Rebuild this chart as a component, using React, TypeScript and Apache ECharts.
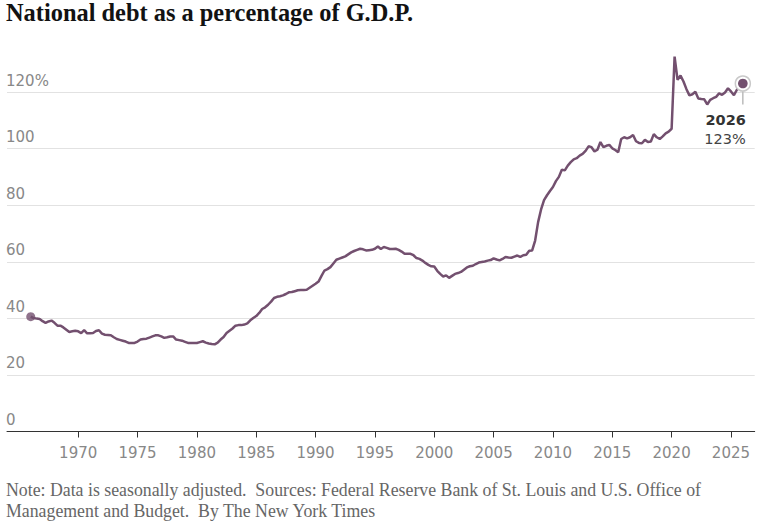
import React, { useEffect, useRef } from "react";
import * as echarts from "echarts";

// Quarterly federal debt as % of GDP, starting 1966 Q1
const startYear = 1966;
const debt1966to1969 = [40.6, 40.1, 39.9, 39.8, 39.0, 38.4, 38.9, 39.2, 38.4, 37.4, 37.4, 36.8, 36.0, 35.2, 35.4, 35.6];
const debt1970s = [35.4, 34.8, 35.8, 34.7, 34.7, 34.8, 35.5, 35.8, 34.6, 34.2, 34.1, 34.0, 33.3, 32.7, 32.4, 32.1, 31.8, 31.3, 31.3, 31.3, 31.8, 32.5, 32.7, 32.8, 33.2, 33.6, 34.0, 34.0, 33.6, 33.1, 33.3, 33.6, 33.6, 32.5, 32.3, 32.1, 31.7, 31.3, 31.3, 31.3];
const debt1980s = [31.3, 31.6, 31.9, 31.4, 31.1, 30.9, 30.8, 31.4, 32.5, 33.4, 34.8, 35.6, 36.4, 37.4, 37.6, 37.6, 37.8, 38.2, 39.3, 40.1, 40.8, 41.9, 43.3, 43.9, 44.8, 45.9, 47.2, 47.6, 47.8, 48.1, 48.6, 49.2, 49.3, 49.6, 49.9, 50.0, 50.0, 50.1, 50.8, 51.5];
const debt1990s = [52.2, 53.0, 55.0, 56.9, 57.4, 58.1, 59.4, 60.7, 61.1, 61.5, 61.9, 62.6, 63.3, 63.8, 64.2, 64.6, 64.4, 64.0, 64.1, 64.2, 64.6, 65.4, 64.5, 65.2, 64.9, 64.5, 64.5, 64.6, 64.2, 63.6, 62.8, 62.8, 62.8, 62.3, 61.3, 61.0, 60.4, 59.6, 58.9, 58.4];
const debt2000s = [58.3, 56.8, 55.7, 54.8, 55.2, 54.3, 55.0, 55.7, 56.0, 56.4, 57.2, 58.0, 58.4, 58.6, 59.2, 59.7, 59.9, 60.1, 60.4, 60.6, 61.2, 60.8, 60.5, 61.0, 61.7, 61.5, 61.4, 61.8, 62.2, 61.7, 62.3, 62.5, 63.9, 64.0, 67.5, 74.0, 78.5, 81.8, 83.5, 85.0];
const debt2010s = [86.4, 88.5, 90.0, 92.5, 92.3, 94.0, 95.2, 96.2, 96.6, 97.5, 98.1, 99.2, 100.8, 100.5, 99.0, 99.6, 102.3, 100.5, 101.0, 101.3, 100.1, 99.5, 98.7, 103.4, 104.0, 103.6, 104.0, 104.8, 102.6, 102.0, 101.9, 103.1, 102.3, 102.5, 105.1, 104.0, 103.4, 104.3, 105.4, 106.0];
const debt2020s = [107.0, 132.5, 124.3, 125.8, 123.7, 121.0, 118.8, 119.2, 120.1, 117.7, 117.5, 117.4, 115.6, 117.2, 117.8, 118.3, 119.5, 119.0, 119.8, 121.3, 120.2, 118.9, 120.8, 121.9, 123.0];

const yTicks = [0, 20, 40, 60, 80, 100, 120];
const xTickYears = [1970, 1975, 1980, 1985, 1990, 1995, 2000, 2005, 2010, 2015, 2020, 2025];

const titleText = "National debt as a percentage of G.D.P.";
const noteLine1 = "Note: Data is seasonally adjusted.  Sources: Federal Reserve Bank of St. Louis and U.S. Office of";
const noteLine2 = "Management and Budget.  By The New York Times";

const LINE_COLOR = "#73506f";
const SANS = "DejaVu Sans";
const SERIF = "Liberation Serif";

export default function App() {
  const ref = useRef<HTMLDivElement>(null);

  useEffect(() => {
    const values = [
      ...debt1966to1969,
      ...debt1970s,
      ...debt1980s,
      ...debt1990s,
      ...debt2000s,
      ...debt2010s,
      ...debt2020s,
    ];
    const points = values.map((v, i) => [startYear + i / 4, v]);
    const first = points[0];
    const last = points[points.length - 1];

    const chart = echarts.init(ref.current!, null, { renderer: "svg" });
    chart.setOption({
      animation: false,
      backgroundColor: "#fff",
      title: {
        text: titleText,
        left: 6,
        top: 0,
        padding: 0,
        textStyle: {
          fontFamily: SERIF,
          fontWeight: "bold",
          fontSize: 24.4,
          color: "#121212",
        },
      },
      grid: { left: 7, right: 8.3, top: 92, bottom: 95.5 },
      xAxis: {
        type: "value",
        min: 1964,
        max: 2027,
        splitLine: { show: false },
        axisLine: { show: true, lineStyle: { color: "#333", width: 1 } },
        axisTick: {
          show: true,
          length: 6,
          customValues: xTickYears,
          lineStyle: { color: "#333", width: 1 },
        },
        axisLabel: {
          customValues: xTickYears,
          margin: 14,
          color: "#888",
          fontFamily: SANS,
          fontSize: 15,
          formatter: (v: number) => String(v),
        },
      },
      yAxis: {
        type: "value",
        min: 0,
        max: 120,
        interval: 20,
        axisLine: { show: false },
        axisTick: { show: false },
        splitLine: { show: true, lineStyle: { color: "#e2e2e2", width: 1 } },
        axisLabel: {
          inside: true,
          margin: -1,
          verticalAlign: "bottom",
          padding: [0, 0, 4, 0],
          color: "#888",
          fontFamily: SANS,
          fontSize: 15,
          formatter: (v: number) => (v === yTicks[yTicks.length - 1] ? v + "%" : String(v)),
        },
      },
      series: [
        {
          type: "line",
          data: points,
          showSymbol: false,
          clip: false,
          lineStyle: { color: LINE_COLOR, width: 2.5 },
          z: 3,
        },
        {
          type: "scatter",
          data: [first],
          symbolSize: 9,
          itemStyle: { color: LINE_COLOR },
          z: 4,
        },
        {
          type: "custom",
          data: [last],
          clip: false,
          z: 5,
          renderItem: (params: any, api: any) => {
            const yr = api.value(0);
            const val = api.value(1);
            const p = api.coord([yr, val]);
            return {
              type: "group",
              children: [
                {
                  type: "circle",
                  shape: { cx: p[0], cy: p[1], r: 7.5 },
                  style: { fill: "#fff", stroke: "#c9c9c9", lineWidth: 1.5 },
                },
                {
                  type: "circle",
                  shape: { cx: p[0], cy: p[1], r: 4.8 },
                  style: { fill: LINE_COLOR },
                },
                {
                  type: "line",
                  shape: { x1: p[0], y1: p[1] + 8, x2: p[0], y2: p[1] + 21 },
                  style: { stroke: "#bbb", lineWidth: 1.5 },
                },
                {
                  type: "text",
                  x: p[0] + 3,
                  y: p[1] + 36,
                  style: {
                    text: String(Math.round(yr)),
                    fontFamily: SANS,
                    fontWeight: "bold",
                    fontSize: 14.5,
                    fill: "#333",
                    align: "right",
                    verticalAlign: "middle",
                  },
                },
                {
                  type: "text",
                  x: p[0] + 3,
                  y: p[1] + 55,
                  style: {
                    text: Math.round(val) + "%",
                    fontFamily: SANS,
                    fontSize: 14.5,
                    fill: "#444",
                    align: "right",
                    verticalAlign: "middle",
                  },
                },
              ],
            };
          },
        },
      ],
      graphic: [
        {
          type: "text",
          left: 6,
          top: 481,
          style: { text: noteLine1, fontFamily: SERIF, fontSize: 17.8, fill: "#666" },
        },
        {
          type: "text",
          left: 6,
          top: 502,
          style: { text: noteLine2, fontFamily: SERIF, fontSize: 17.8, fill: "#666" },
        },
      ],
    });
    return () => chart.dispose();
  }, []);

  return (
    <div
      ref={ref}
      style={{ position: "fixed", left: 0, top: 0, width: 763, height: 527, background: "#fff" }}
    />
  );
}
